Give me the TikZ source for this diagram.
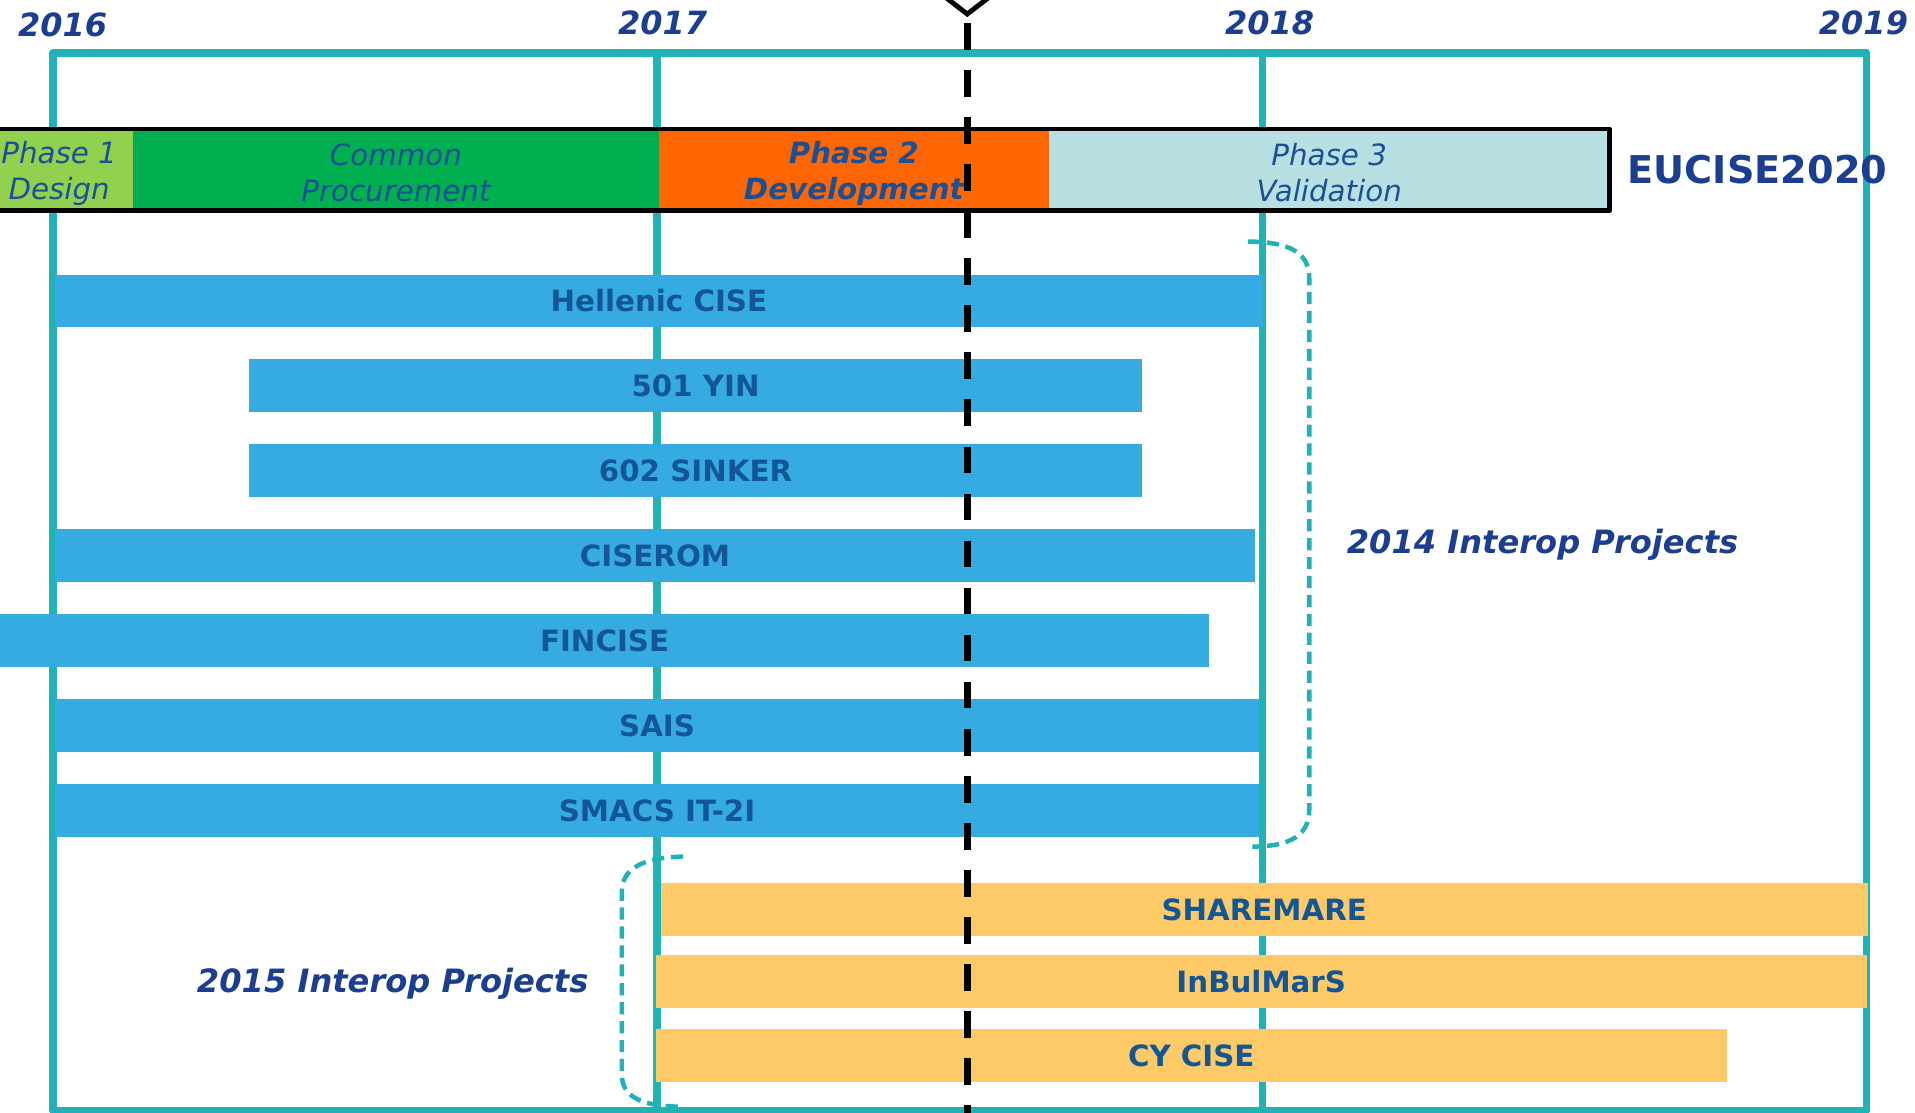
\documentclass[tikz,border=0pt]{standalone}
\usepackage{fontspec}
\setmainfont{DejaVu Sans}
\definecolor{tealc}{RGB}{32,178,180}
\definecolor{bluec}{RGB}{53,171,226}
\definecolor{yellowc}{RGB}{254,202,104}
\definecolor{bartext}{RGB}{18,86,150}
\definecolor{phasetext}{RGB}{28,80,150}
\definecolor{labelblue}{RGB}{28,62,145}
\definecolor{lgreen}{RGB}{146,208,80}
\definecolor{dgreen}{RGB}{0,176,80}
\definecolor{orangec}{RGB}{255,102,0}
\definecolor{lblue}{RGB}{184,224,226}
\newcommand\phstrut{\rule[-1.6pt]{0pt}{26pt}}
\begin{document}
\begin{tikzpicture}[x=1pt,y=-1pt,
  frameline/.style={draw=tealc, line width=6pt, line join=round},
  bar/.style={inner sep=0pt, minimum height=43pt, font=\fontsize{24}{29}\selectfont\bfseries, text=bartext},
  bluebar/.style={bar, fill=bluec},
  yellowbar/.style={bar, fill=yellowc},
  phasebox/.style={inner sep=0pt, minimum height=67pt, align=center, font=\fontsize{24}{29}\selectfont\itshape, text=phasetext},
  yearlabel/.style={anchor=base, inner sep=0pt, font=\fontsize{26.2}{30}\selectfont\bfseries\itshape, text=labelblue},
  grouplabel/.style={anchor=base, inner sep=0pt, font=\fontsize{26.3}{30}\selectfont\bfseries\itshape, text=labelblue},
  bracepath/.style={draw=tealc, line width=3.7pt, dash pattern=on 10pt off 5.5pt},
  todayline/.style={draw=black, line width=5.4pt, dash pattern=on 22pt off 16.5pt}
]
\useasboundingbox (0,0) rectangle (1568,911);
\clip (0,0) rectangle (1568,911);

% timeline frame
\draw[frameline] (43.3,43.4) rectangle (1528.5,909);
\draw[frameline] (538,43.4) -- (538,909);
\draw[frameline] (1033.6,43.4) -- (1033.6,909);

% years
\node[yearlabel] (y2016) at (51.2,30) {2016};
\node[yearlabel] (y2017) at (542.5,28) {2017};
\node[yearlabel] (y2018) at (1039.5,28) {2018};
\node[yearlabel] (y2019) at (1525.8,28) {2019};

% phase bar
\node[phasebox, fill=lgreen, minimum width=121pt] (ph1) at (48.4,139) {\phstrut Phase 1\\\phstrut Design};
\node[phasebox, fill=dgreen, minimum width=430.6pt] (cp) at (324.2,139) {\phstrut Common\\\phstrut Procurement};
\node[phasebox, fill=orangec, minimum width=319.2pt, font=\fontsize{24}{29}\selectfont\bfseries\itshape] (ph2) at (699.1,139) {\phstrut Phase 2\\\phstrut Development};
\node[phasebox, fill=lblue, minimum width=459.3pt] (ph3) at (1088.35,139) {\phstrut Phase 3\\\phstrut Validation};
\draw[black, line width=3.8pt, line join=round] (-20,105.5) rectangle (1318,172.6);
\node[anchor=center, inner sep=0pt, font=\fontsize{31.3}{36}\selectfont\bfseries, text=labelblue] (eucise) at (1439,139) {EUCISE2020};

% 2014 interop projects
\node[bluebar, minimum width=989pt] (hellenic) at (539.5,246.5) {Hellenic CISE};
\node[bluebar, minimum width=731pt] (yin) at (569.5,315.8) {501 YIN};
\node[bluebar, minimum width=731pt] (sinker) at (569.5,385.4) {602 SINKER};
\node[bluebar, minimum width=982.6pt] (ciserom) at (536.3,455) {CISEROM};
\node[bluebar, minimum width=990pt] (fincise) at (495,524.4) {FINCISE};
\node[bluebar, minimum width=986pt] (sais) at (538,594) {SAIS};
\node[bluebar, minimum width=986pt] (smacs) at (538,663.6) {SMACS IT-2I};

% 2015 interop projects
\node[yellowbar, minimum width=988.2pt] (sharemare) at (1035.1,744.7) {SHAREMARE};
\node[yellowbar, minimum width=991.4pt] (inbulmars) at (1032.7,803.8) {InBulMarS};
\node[yellowbar, minimum width=876.8pt] (cycise) at (975.4,864.2) {CY CISE};

% braces and group labels
\draw[bracepath] (1021.8,197.8) .. controls (1058,198) and (1072,208) .. (1072,228)
  -- (1072,663) .. controls (1072,683) and (1058,693) .. (1025.5,693.2);
\node[grouplabel] (g2014) at (1263,453.5) {2014 Interop Projects};
\draw[bracepath] (559.3,701.4) .. controls (525,702) and (509.2,712) .. (509.2,730)
  -- (509.2,880) .. controls (509.2,898) and (525,906) .. (559.3,906.2);
\node[grouplabel] (g2015) at (321.5,813) {2015 Interop Projects};

% today marker
\draw[todayline] (792,19.1) -- (792,915);
\draw[black, fill=white, line width=4pt, line join=miter] (757,-15.5) -- (792,11.5) -- (827,-15.5) -- (792,-42.5) -- cycle;
\end{tikzpicture}
\end{document}
